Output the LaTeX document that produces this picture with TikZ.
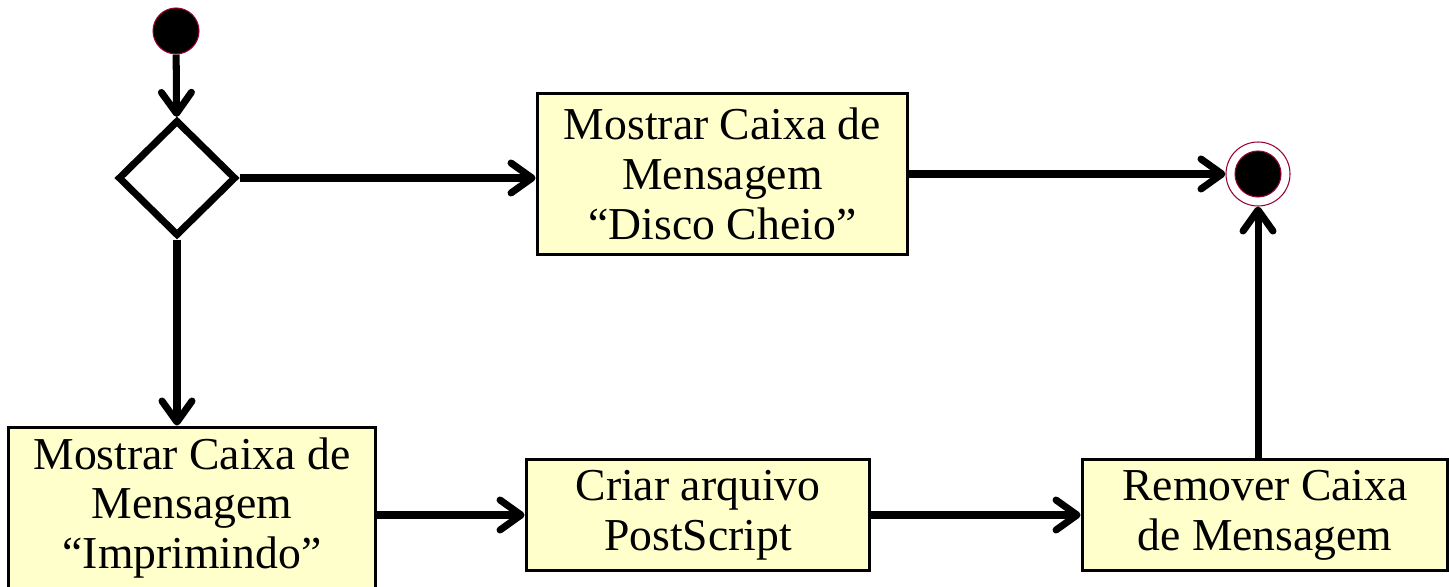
\documentclass[tikz,border=0pt]{standalone}
\usepackage{fontspec}
\setmainfont{Liberation Serif}
\usetikzlibrary{arrows.meta, shapes.geometric, calc}
\definecolor{darkred}{RGB}{153,0,51}
\definecolor{boxfill}{RGB}{255,255,204}

\begin{document}
\begin{tikzpicture}[x=0.02cm, y=-0.02cm]
            \tikzset{action/.style = {shape=rectangle,draw,fill=boxfill,line width=1.7pt,align=center,inner sep=0pt,
                                      font=\fontsize{26}{28.4}\selectfont}}
            \tikzset{startnode/.style = {shape=circle,fill=black,draw=darkred,line width=0.6pt,minimum size=0.92cm}}
            \tikzset{endnode/.style = {shape=circle,draw=darkred,line width=0.6pt,minimum size=1.28cm,
                                       path picture={\fill[draw=darkred,line width=0.6pt] (path picture bounding box.center) circle (0.46cm);}}}
            \tikzset{decision/.style = {shape=diamond,draw,line width=4pt,minimum width=2.36cm,minimum height=2.32cm,inner sep=0pt}}
            \tikzset{edge/.style = {line width=4pt,-{Straight Barb[length=0.42cm,width=0.6cm,line cap=round,line join=round]}}}

            \path[use as bounding box] (0,0) rectangle (1449,587);
            \clip (0,0) rectangle (1449,587);

            \node[startnode] (s) at (176, 31) {};
            \node[decision] (d) at (177, 178) {};

            \node[action,minimum width=7.42cm,minimum height=3.24cm] (b1) at (722.5, 174) {Mostrar Caixa de\\Mensagem\\``Disco Cheio''};
            \node[endnode] (f) at (1258, 174) {};

            \node[action,minimum width=7.34cm,minimum height=3.24cm] (b2) at (192, 508) {Mostrar Caixa de\\Mensagem\\``Imprimindo''};
            \node[action,minimum width=6.88cm,minimum height=2.24cm] (b3) at (698, 515) {Criar arquivo\\PostScript};
            \node[action,minimum width=7.32cm,minimum height=2.24cm] (b4) at (1265, 515) {Remover Caixa\\de Mensagem};

            \draw[edge] (s) to (d);
            \draw[edge] (d.east) to (d.east -| b1.west);
            \draw[edge] (b1) to (f);
            \draw[edge] (d.south) to (d.south |- b2.north);
            \draw[edge] (b3.west -| b2.east) to (b3.west);
            \draw[edge] (b3) to (b4);
            \draw[edge] (f.south |- b4.north) to (f.south);
          \end{tikzpicture}
\end{document}
